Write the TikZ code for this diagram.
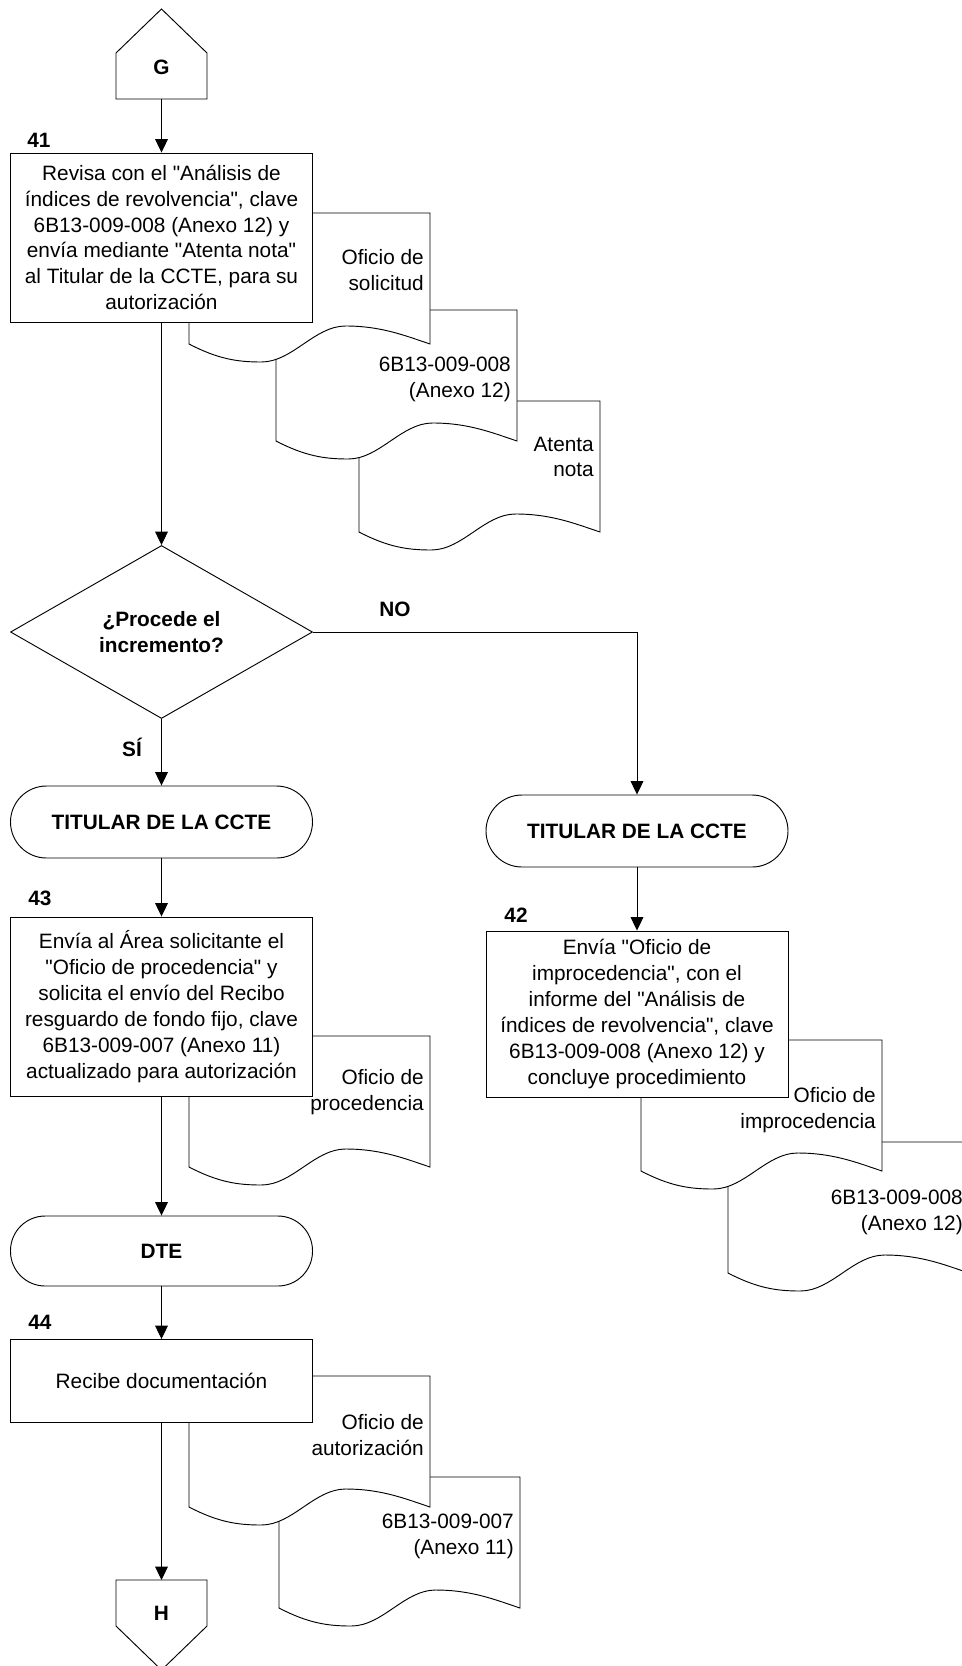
\documentclass[tikz,border=0pt]{standalone}
\usepackage{fontspec}
\setmainfont{Liberation Sans}[Ligatures=TeXOff]
\usetikzlibrary{arrows.meta,shapes.geometric}

% one unit = one pixel of the layout grid, y grows downwards
\tikzset{
  x=0.75pt, y=-0.75pt,
  every node/.style={font=\fontsize{15.6pt}{19.4pt}\selectfont},
  boldtext/.style={font=\fontsize{15.6pt}{19.4pt}\selectfont\bfseries},
  line/.style={line width=0.7pt, draw=black},
  flow/.style={line, -{Triangle[width=9.5pt,length=10pt]}},
  procbox/.style={line, fill=white, minimum width=226.5pt, align=center, inner sep=0pt},
  termbox/.style={line, fill=white, rounded corners=27pt, minimum width=226.5pt,
                  minimum height=54pt, boldtext},
  decision/.style={line, diamond, fill=white, aspect=1.75, minimum width=226.5pt,
                   minimum height=129.75pt, align=center, inner sep=0pt, boldtext},
  doclabel/.style={anchor=east, align=right, inner sep=0pt},
  numlabel/.style={boldtext, inner sep=0pt},
}

% document symbol: name, left x, top y, text offset, text
\newcommand{\docsh}[5]{%
  \draw[line, fill=white]
    ({#2},{#3+131})
      .. controls ({#2+0.12*241},{#3+131+15}) and ({#2+0.2*241},{#3+131+18}) .. ({#2+0.3*241},{#3+131+18})
      .. controls ({#2+0.43*241},{#3+131+18}) and ({#2+0.52*241},{#3+131-18}) .. ({#2+0.65*241},{#3+131-18})
      .. controls ({#2+0.8*241},{#3+131-18}) and ({#2+0.9*241},{#3+131-8}) .. ({#2+241},{#3+131})
    -- ({#2+241},{#3}) -- ({#2},{#3}) -- cycle;
  \node[doclabel] (#1) at ({#2+235},{#3+#4}) {#5};
}

\begin{document}
\begin{tikzpicture}
\useasboundingbox (0,0) rectangle (962,1666);
\clip (0,0) rectangle (962,1666);

% documents (drawn first, behind the process boxes)
\docsh{dA3}{359}{401}{56}{Atenta\\nota}
\docsh{dA2}{276}{310}{69}{6B13-009-008\\(Anexo 12)}
\docsh{dA1}{189}{213}{57}{Oficio de\\solicitud}
\docsh{dR2}{728}{1142}{70}{6B13-009-008\\(Anexo 12)}
\docsh{dR1}{641}{1040}{70}{Oficio de\\improcedencia}
\docsh{dB1}{189}{1036}{56}{Oficio de\\procedencia}
\docsh{dC2}{279}{1477}{59}{6B13-009-007\\(Anexo 11)}
\docsh{dC1}{189}{1376}{59}{Oficio de\\autorización}

% off-page connector G
\draw[line, fill=white] (116,99) -- (116,53) -- (161.5,9) -- (207,53) -- (207,99) -- cycle;
\node[boldtext] (G) at (161.5,67) {G};
\coordinate (Gbot) at (161.5,99);

% process boxes
\node[procbox, minimum height=126.75pt] (b41) at (161.5,237.5)
  {Revisa con el "Análisis de\\índices de revolvencia", clave\\6B13-009-008 (Anexo 12) y\\envía mediante "Atenta nota"\\al Titular de la CCTE, para su\\autorización};
\node[numlabel] (n41) at (39,140) {41};

\node[decision] (dia) at (161.5,632) {¿Procede el\\incremento?};

\node[termbox] (tL) at (161.5,822) {TITULAR DE LA CCTE};
\node[termbox] (tR) at (637,831) {TITULAR DE LA CCTE};

\node[procbox, minimum height=124.5pt] (b42) at (637,1014)
  {Envía "Oficio de\\improcedencia", con el\\informe del "Análisis de\\índices de revolvencia", clave\\6B13-009-008 (Anexo 12) y\\concluye procedimiento};
\node[numlabel] (n42) at (516,915) {42};

\node[procbox, minimum height=134.25pt] (b43) at (161.5,1006.5)
  {Envía al Área solicitante el\\"Oficio de procedencia" y\\solicita el envío del Recibo\\resguardo de fondo fijo, clave\\6B13-009-007 (Anexo 11)\\actualizado para autorización};
\node[numlabel] (n43) at (40,898) {43};

\node[termbox, minimum height=52.5pt, rounded corners=26pt] (dte) at (161.5,1251) {DTE};

\node[procbox, minimum height=62.25pt] (b44) at (161.5,1381) {Recibe documentación};
\node[numlabel] (n44) at (40,1322) {44};

% off-page connector H
\draw[line, fill=white] (116,1580) -- (207,1580) -- (207,1626) -- (161.5,1670) -- (116,1626) -- cycle;
\node[boldtext] (H) at (161.5,1613) {H};
\coordinate (Htop) at (161.5,1580);

% branch labels
\node[numlabel] (si) at (132,747) {SÍ};
\node[numlabel] (no) at (395,609) {NO};

% connectors
\draw[flow] (Gbot) -- (b41.north);
\draw[flow] (b41.south) -- (dia.north);
\draw[flow] (dia.south) -- (tL.north);
\draw[flow] (dia.east) -| (tR.north);
\draw[flow] (tL.south) -- (b43.north);
\draw[flow] (tR.south) -- (b42.north);
\draw[flow] (b43.south) -- (dte.north);
\draw[flow] (dte.south) -- (b44.north);
\draw[flow] (b44.south) -- (Htop);
\end{tikzpicture}
\end{document}
